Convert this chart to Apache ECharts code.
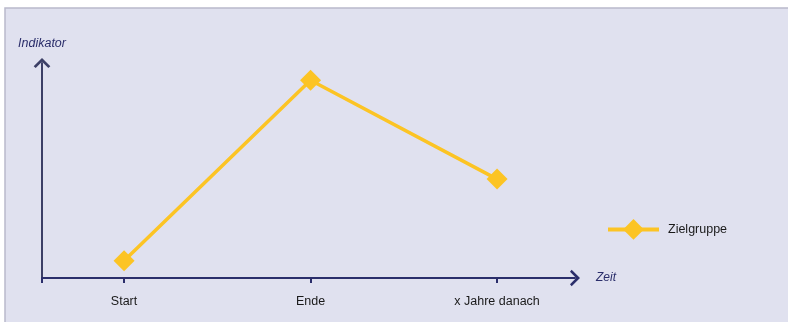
<!DOCTYPE html>
<html>
<head>
<meta charset="utf-8">
<script src="https://cdn.jsdelivr.net/npm/echarts@6/dist/echarts.min.js"></script>
<style>
  html, body { margin: 0; padding: 0; background: #ffffff; }
  #chart { width: 788px; height: 322px; }
</style>
</head>
<body>
<div id="chart"></div>
<script>
// Phases on the time axis and the indicator level reached in each
const categories = ['Start', 'Ende', 'x Jahre danach'];
const zielgruppe = [8, 92, 46];
const seriesName = 'Zielgruppe';

const navy = '#2b2e6b';
const gold = '#fcc424';
const font = '"Liberation Sans", Arial, sans-serif';

// Open chevron used as arrow head on both axes (points up, rotated by the axis)
const chevron = 'path://M0,10 L10,0 L20,10 L17.6,12 L10,4.6 L2.4,12 Z';

const points = zielgruppe.map((v, i) => [i, v]);

const chart = echarts.init(document.getElementById('chart'), null, { renderer: 'canvas' });
chart.setOption({
  backgroundColor: '#ffffff',
  animation: false,
  textStyle: { fontFamily: font },
  graphic: [
    {
      type: 'rect', z: -10, silent: true,
      shape: { x: 5, y: 8, width: 790, height: 320 },
      style: { fill: '#e0e1ef', stroke: '#b9b9cb', lineWidth: 1.5 }
    }
  ],
  grid: { left: 42, right: 213, top: 63, bottom: 44 },
  legend: {
    left: 601, top: 214,
    itemWidth: 51, itemHeight: 26, itemGap: 10,
    lineStyle: { width: 4 },
    textStyle: { fontFamily: font, fontSize: 12.5, color: '#1a1a1a', padding: [0, 0, 0, 4] },
    data: [seriesName]
  },
  xAxis: {
    type: 'value',
    min: -0.44, max: 2.418,
    name: 'Zeit',
    nameLocation: 'end',
    nameGap: 21,
    nameTextStyle: { fontFamily: font, fontStyle: 'italic', fontSize: 12, color: navy },
    axisLine: {
      show: true, onZero: false,
      lineStyle: { color: navy, width: 2 },
      symbol: ['none', chevron], symbolSize: [18, 10]
    },
    axisTick: {
      show: true, length: 5, inside: false,
      lineStyle: { color: navy, width: 2 },
      customValues: [-0.44, 0, 1, 2]
    },
    axisLabel: {
      show: true, margin: 17,
      customValues: [0, 1, 2],
      fontFamily: font, fontSize: 12.5, color: '#1a1a1a',
      formatter: v => categories[Math.round(v)] || ''
    },
    splitLine: { show: false }
  },
  yAxis: {
    type: 'value',
    min: 0, max: 100,
    name: 'Indikator',
    nameLocation: 'end',
    nameGap: 13,
    nameTextStyle: { fontFamily: font, fontStyle: 'italic', fontSize: 12.5, color: navy, align: 'center' },
    axisLine: {
      show: true, onZero: false,
      lineStyle: { color: '#3c3f66', width: 2 },
      symbol: ['none', chevron], symbolSize: [18, 10]
    },
    axisTick: { show: false },
    axisLabel: { show: false },
    splitLine: { show: false }
  },
  series: [
    {
      name: seriesName,
      type: 'line',
      data: points,
      symbol: 'diamond',
      symbolSize: 21,
      itemStyle: { color: gold },
      lineStyle: { color: gold, width: 3.5 }
    }
  ]
});
</script>
</body>
</html>
